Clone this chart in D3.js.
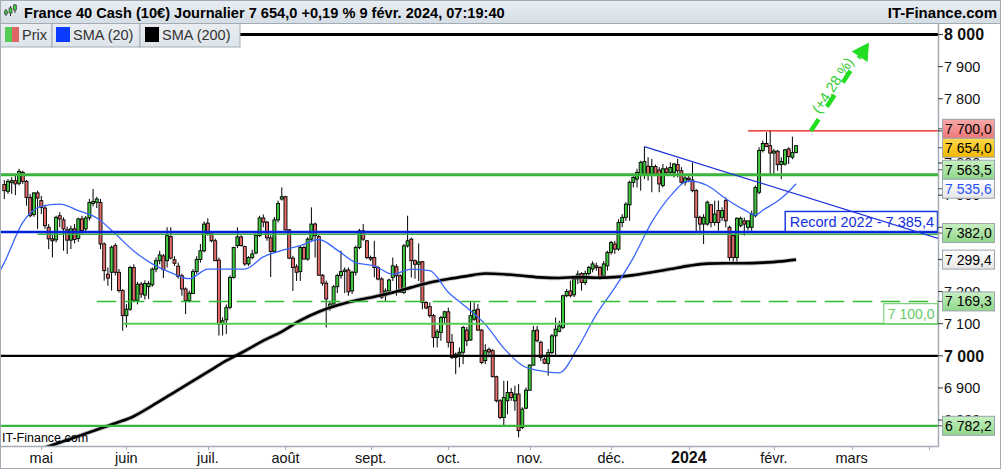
<!DOCTYPE html>
<html><head><meta charset="utf-8">
<script src="https://cdn.jsdelivr.net/npm/d3@7"></script>
<style>
html,body{margin:0;padding:0;background:#fff;}
svg{display:block;font-family:"Liberation Sans",Arial,sans-serif;}
</style></head><body>
<svg id="c" width="1001" height="469"></svg>
<script>
// ---------------- DATA ----------------
const titleText = "France 40 Cash (10€) Journalier 7 654,0 +0,19 % 9 févr. 2024, 07:19:40";
const brandText = "IT-Finance.com";
const legendLabels = ["Prix", "SMA (20)", "SMA (200)"];
const monthLabels = ["mai","juin","juil.","août","sept.","oct.","nov.","déc.","2024","févr.","mars",""];
const yTickValues = [6800,6900,7000,7100,7200,7300,7400,7500,7600,7700,7800,7900,8000];
const firstDay = "2023-04-17", axisEndDay = "2024-04-08";

// daily candles [open, high, low, close]
const aprCandles = [[7533,7547,7488,7514],[7512,7550,7504,7543],[7539,7556,7504,7545],[7545,7561,7500,7535],[7537,7582,7530,7574],[7571,7576,7535,7543],[7543,7547,7467,7493],[7493,7504,7431,7436],[7440,7509,7433,7507],[7507,7514,7395,7491]];
const mayCandles = [[7483,7498,7441,7462],[7460,7470,7395,7405],[7400,7410,7332,7364],[7364,7380,7306,7358],[7361,7436,7353,7431],[7436,7447,7400,7426],[7423,7431,7327,7395],[7392,7402,7317,7360],[7360,7405,7332,7395],[7395,7410,7350,7362],[7365,7430,7355,7426],[7426,7436,7380,7390],[7395,7435,7385,7429],[7429,7488,7421,7477],[7474,7519,7465,7480],[7478,7495,7460,7488],[7477,7488,7332,7348],[7348,7353,7234,7265],[7254,7275,7218,7242],[7260,7343,7203,7338],[7343,7350,7250,7260],[7260,7270,7197,7203],[7203,7208,7078,7125]];
const junCandles = [[7125,7161,7088,7145],[7145,7280,7140,7275],[7275,7285,7170,7173],[7173,7230,7160,7223],[7223,7230,7180,7192],[7189,7235,7175,7225],[7215,7233,7177,7225],[7221,7275,7215,7270],[7270,7306,7260,7296],[7296,7327,7285,7314],[7311,7317,7242,7268],[7296,7400,7275,7374],[7371,7400,7300,7304],[7299,7310,7280,7288],[7279,7290,7240,7247],[7249,7255,7187,7208],[7208,7213,7130,7172],[7172,7203,7166,7195],[7194,7270,7192,7262],[7262,7310,7255,7300],[7300,7348,7290,7327],[7327,7418,7322,7410]];
const julCandles = [[7413,7428,7374,7379],[7379,7385,7353,7358],[7358,7365,7295,7296],[7298,7306,7063,7099],[7099,7120,7063,7109],[7112,7160,7068,7150],[7151,7250,7145,7244],[7244,7340,7240,7337],[7343,7400,7335,7370],[7370,7375,7340,7343],[7340,7343,7280,7286],[7286,7310,7280,7306],[7306,7330,7300,7317],[7320,7380,7316,7374],[7374,7436,7370,7429],[7429,7440,7400,7416],[7416,7420,7358,7367],[7367,7375,7245,7325],[7325,7432,7320,7423],[7423,7483,7415,7474],[7488,7524,7483,7495]];
const augCandles = [[7495,7498,7390,7392],[7392,7395,7301,7304],[7304,7311,7202,7275],[7277,7285,7233,7260],[7262,7343,7233,7337],[7337,7343,7300,7301],[7301,7369,7296,7363],[7363,7462,7358,7410],[7410,7415,7306,7374],[7371,7379,7249,7251],[7251,7254,7218,7226],[7226,7234,7088,7177],[7152,7170,7140,7161],[7161,7220,7150,7215],[7215,7255,7195,7250],[7250,7327,7240,7262],[7262,7275,7195,7267],[7267,7275,7187,7199],[7202,7265,7192,7260],[7260,7343,7250,7337],[7337,7395,7332,7389],[7389,7410,7358,7363],[7358,7360,7301,7306]];
const sepCandles = [[7306,7312,7295,7301],[7306,7358,7244,7275],[7275,7280,7235,7239],[7239,7245,7177,7182],[7187,7210,7170,7202],[7202,7240,7195,7236],[7244,7306,7233,7280],[7277,7285,7187,7249],[7249,7254,7196,7197],[7197,7348,7192,7342],[7342,7436,7337,7358],[7363,7368,7244,7296],[7296,7300,7240,7285],[7285,7350,7233,7292],[7293,7295,7145,7166],[7166,7170,7145,7149],[7153,7166,7119,7125],[7125,7130,7026,7057],[7057,7083,7026,7075],[7073,7124,7047,7119],[7119,7140,7100,7137]];
const octCandles = [[7137,7150,7026,7042],[7042,7068,6990,6995],[6995,7010,6943,7005],[7005,7026,6964,7011],[7011,7093,6974,7088],[7080,7090,7030,7047],[7049,7171,7047,7125],[7114,7166,7109,7142],[7145,7161,7078,7080],[7080,7083,6974,6979],[6985,7036,6974,7016],[7020,7026,6995,7012],[7016,7021,6933,6935],[6935,6938,6855,6860],[6860,6865,6803,6808],[6808,6922,6782,6870],[6860,6922,6818,6886],[6886,6900,6860,6870],[6860,6907,6829,6881],[6881,6912,6746,6767],[6777,6840,6772,6834],[6837,6901,6834,6893]];
const novCandles = [[6893,6974,6891,6971],[6971,7093,6969,7078],[7080,7093,7042,7047],[7042,7047,6984,6995],[6990,6995,6974,6977],[6976,7021,6938,7010],[7010,7068,7005,7062],[7062,7119,7000,7083],[7076,7109,7073,7093],[7088,7190,7083,7187],[7187,7208,7182,7200],[7202,7234,7182,7187],[7190,7249,7183,7239],[7239,7265,7223,7254],[7256,7260,7203,7228],[7228,7265,7220,7256],[7256,7280,7249,7275],[7270,7294,7260,7286],[7280,7290,7265,7275],[7275,7280,7236,7244],[7249,7295,7244,7286],[7280,7327,7265,7322]];
const decCandles = [[7322,7358,7315,7353],[7348,7358,7317,7332],[7332,7425,7327,7415],[7415,7441,7400,7431],[7431,7478,7420,7472],[7470,7545,7420,7540],[7540,7561,7524,7555],[7550,7582,7524,7571],[7564,7607,7514,7602],[7566,7651,7550,7605],[7590,7618,7545,7566],[7568,7613,7509,7589],[7589,7595,7560,7566],[7578,7587,7509,7535],[7530,7597,7524,7582],[7582,7590,7560,7571],[7571,7602,7560,7586],[7571,7600,7555,7597],[7595,7613,7555,7576],[7576,7587,7535,7540],[7540,7560,7530,7553]];
const janCandles = [[7553,7560,7540,7548],[7547,7602,7509,7514],[7514,7519,7384,7431],[7431,7436,7389,7410],[7410,7441,7348,7431],[7410,7483,7405,7478],[7470,7472,7400,7415],[7415,7483,7405,7441],[7452,7483,7389,7415],[7431,7462,7420,7452],[7483,7493,7400,7420],[7400,7405,7296,7306],[7374,7380,7285,7306],[7306,7431,7285,7428],[7405,7433,7400,7428],[7420,7430,7374,7410],[7400,7420,7390,7420],[7400,7452,7389,7441],[7436,7530,7431,7524],[7509,7649,7503,7639],[7639,7670,7633,7661],[7661,7696,7651,7651],[7654,7701,7566,7631]];
const febCandles = [[7631,7644,7566,7637],[7637,7641,7576,7595],[7595,7618,7550,7605],[7597,7644,7592,7641],[7644,7649,7597,7620],[7618,7682,7612,7633],[7633,7654,7630,7654]];

// moving averages (trading-day index, value)
const sma20Days   = [-1,0,5,10,15,20,25,30,35,40,45,50,55,60,65,70,75,80,85,90,95,100,105,110,115,120,125,130,135,140,145,150,155,160,165,170,175,180,185,190,195,200,203,205,210,214];
const sma20Values = [7268,7290,7415,7465,7472,7452,7429,7380,7326,7286,7259,7240,7270,7270,7270,7308,7328,7343,7362,7329,7290,7280,7254,7270,7265,7198,7150,7098,7024,6970,6953,6947,7025,7128,7212,7305,7416,7497,7544,7530,7489,7454,7438,7453,7490,7535.6];
const sma200Days   = [8,15,20,25,30,35,40,45,50,55,60,65,70,75,80,85,90,95,100,105,110,115,120,125,130,135,140,145,150,155,160,165,170,175,180,185,190,195,200,205,210,214];
const sma200Values = [6703,6730,6750,6770,6790,6812,6845,6880,6915,6950,6985,7015,7047,7075,7110,7137,7157,7172,7184,7197,7213,7228,7239,7248,7256,7254,7249,7244,7242,7245,7243,7245,7251,7260,7270,7280,7287,7288,7288,7290,7294,7299.4];

// horizontal levels and annotations
const level8000 = 8000, level7000 = 7000;
const resistance7700 = 7700.0, resistanceStartDay = 201;
const zone7563 = 7563.5;
const record2022 = 7385.4, support7382 = 7382.0, support7382StartDay = 9;
const dashed7169 = 7169.3, dashedStartDay = 25;
const support7100 = 7100.0, support7100StartDay = 32;
const low6782 = 6782.2;
const trendA = [173, 7651], trendB = [220.5, 7480];
const arrowFrom = [218, 7700], arrowTo = [233.7, 7975];
const arrowText = "(+4,28 %)";
const recordText = "Record 2022 - 7 385,4";
const lastClose = 7654.0, lastSma20 = 7535.6, lastSma200 = 7299.4;

// ---------------- RENDER ----------------
const W = 1001, H = 469;
const plotL = 0, plotR = 938, plotT = 24, plotB = 446;
const svg = d3.select("#c");
const defs = svg.append("defs");
function grad(id, c1, c2){
  const g = defs.append("linearGradient").attr("id", id).attr("x1",0).attr("y1",0).attr("x2",0).attr("y2",1);
  g.append("stop").attr("offset","0%").attr("stop-color",c1);
  g.append("stop").attr("offset","100%").attr("stop-color",c2);
}
grad("gHead","#e9eef3","#d5dde5");
grad("gLeg","#eaeef2","#dde4ea");
grad("gRed","#f6a9a9","#ee7878");
grad("gGold","#ffd94d","#f1b800");
grad("gGreen","#c8f0c2","#90d689");
grad("gWhite","#ffffff","#e6e6e6");
defs.append("clipPath").attr("id","plotClip").append("rect")
  .attr("x",plotL).attr("y",plotT).attr("width",plotR-plotL).attr("height",plotB-plotT);

svg.append("rect").attr("width",W).attr("height",H).attr("fill","#fff");

const loc = d3.formatLocale({decimal:",", thousands:" ", grouping:[3], currency:["","€"]});
const fTick = loc.format(",.0f");
const fBox = loc.format(",.1f");

const days = d3.timeDay.range(d3.timeParse("%Y-%m-%d")(firstDay), d3.timeParse("%Y-%m-%d")(axisEndDay))
  .filter(d => d.getDay() !== 0 && d.getDay() !== 6);
const candles = [].concat(aprCandles, mayCandles, junCandles, julCandles, augCandles, sepCandles,
  octCandles, novCandles, decCandles, janCandles, febCandles)
  .map((c, i) => ({i, o:c[0], h:c[1], l:c[2], c:c[3]}));

const x = d3.scaleLinear().domain([-1.16, 252.35]).range([plotL, plotR]);
const y = d3.scaleLinear().domain([6719.3, 8032.7]).range([plotB, plotT]);

const plot = svg.append("g").attr("clip-path","url(#plotClip)");

function hline(v, fromDay, color, w, dash, dy){
  plot.append("line")
    .attr("x1", fromDay == null ? plotL : x(fromDay)).attr("x2", plotR)
    .attr("y1", y(v) + (dy||0)).attr("y2", y(v) + (dy||0))
    .attr("stroke", color).attr("stroke-width", w)
    .attr("stroke-dasharray", dash || null);
}

// candles
const GREEN = "#3fcb3f", RED = "#e56a6a";
const cg = plot.append("g");
cg.selectAll("line").data(candles).join("line")
  .attr("x1", d => x(d.i)).attr("x2", d => x(d.i))
  .attr("y1", d => y(d.h)).attr("y2", d => y(d.l))
  .attr("stroke","#000").attr("stroke-width",1);
cg.selectAll("rect").data(candles).join("rect")
  .attr("x", d => x(d.i) - 1.5).attr("width", 3)
  .attr("y", d => y(Math.max(d.o, d.c)))
  .attr("height", d => Math.max(1, Math.abs(y(d.o) - y(d.c))))
  .attr("fill", d => d.c >= d.o ? GREEN : RED)
  .attr("stroke","#000").attr("stroke-width",0.9);

// moving averages
const sma200 = sma200Days.map((d,k)=>[d, sma200Values[k]]);
const sma20 = sma20Days.map((d,k)=>[d, sma20Values[k]]);
const lineGen = d3.line().x(d => x(d[0])).y(d => y(d[1])).curve(d3.curveMonotoneX);
plot.append("path").datum(sma200).attr("d", lineGen).attr("fill","none")
  .attr("stroke","#9a9a9a").attr("stroke-width",4.5).attr("stroke-opacity",0.6);
plot.append("path").datum(sma200).attr("d", lineGen).attr("fill","none")
  .attr("stroke","#000").attr("stroke-width",2.6);
plot.append("path").datum(sma20).attr("d", lineGen).attr("fill","none")
  .attr("stroke","#3a66ff").attr("stroke-width",1.3);

// levels
hline(level8000, null, "#000", 3);
hline(level7000, null, "#000", 2.2);
hline(zone7563, null, "#3bb53b", 3.2);
hline(support7382, support7382StartDay, "#3bb53b", 1.6, null, 1.2);
hline(record2022, null, "#0022dd", 2.4);
hline(dashed7169, dashedStartDay, "#33bb33", 1.5, "19.5,8.5");
hline(support7100, support7100StartDay, "#55cc55", 2);
hline(low6782, null, "#3bb53b", 2.2);
hline(resistance7700, resistanceStartDay, "#ee1111", 1.2);

// Record 2022 label
const recG = svg.append("g");
const recRect = recG.append("rect").attr("y", y(record2022) - 20.5).attr("height", 20)
  .attr("fill","#fff").attr("stroke","#1030e0").attr("stroke-width",1.4);
const recT = recG.append("text").attr("y", y(record2022) - 5).attr("font-size",14.5)
  .attr("fill","#1030e0").text(recordText);
const rw = recT.node().getComputedTextLength();
recRect.attr("x", plotR - rw - 8.5).attr("width", rw + 8);
recT.attr("x", plotR - rw - 4);

// trend line (extended to the right edge), drawn over the label as in the source
const slope = (trendB[1]-trendA[1])/(trendB[0]-trendA[0]);
const trendEnd = x.domain()[1];
svg.append("g").attr("clip-path","url(#plotClip)").append("line")
  .attr("x1", x(trendA[0])).attr("y1", y(trendA[1]))
  .attr("x2", x(trendEnd)).attr("y2", y(trendA[1] + slope*(trendEnd - trendA[0])))
  .attr("stroke","#2233dd").attr("stroke-width",1.2);

// 7100,0 label
const l71 = svg.append("g");
const l71r = l71.append("rect").attr("y", y(support7100) - 20).attr("height", 20)
  .attr("fill","#fff").attr("stroke","#66cc66").attr("stroke-width",1);
const l71t = l71.append("text").attr("y", y(support7100) - 5).attr("font-size",14)
  .attr("fill","#66cc66").text(fBox(support7100));
const l71w = l71t.node().getComputedTextLength();
l71r.attr("x", plotR - l71w - 7.5).attr("width", l71w + 7);
l71t.attr("x", plotR - l71w - 3.5);

// arrow annotation
const p0 = [x(arrowFrom[0]), y(arrowFrom[1])], p1 = [x(arrowTo[0]), y(arrowTo[1])];
const dx = p1[0]-p0[0], dy = p1[1]-p0[1], len = Math.hypot(dx,dy);
const ux = dx/len, uy = dy/len, px = -uy, py = ux;
const headL = 17, headW = 9.5;
const bc = [p1[0]-ux*headL, p1[1]-uy*headL];
svg.append("line").attr("x1",p0[0]).attr("y1",p0[1]).attr("x2",bc[0]).attr("y2",bc[1])
  .attr("stroke","#22dd22").attr("stroke-width",4.5).attr("stroke-dasharray","14,15");
svg.append("path")
  .attr("d", `M${p1[0]},${p1[1]}L${bc[0]+px*headW},${bc[1]+py*headW}L${bc[0]-px*headW},${bc[1]-py*headW}Z`)
  .attr("fill","#22dd22");
const tpos = [p0[0]+ux*50 - px*7, p0[1]+uy*50 - py*7];
svg.append("text").attr("transform", `translate(${tpos[0]},${tpos[1]}) rotate(${Math.atan2(dy,dx)*180/Math.PI})`)
  .attr("text-anchor","middle").attr("dy","0.35em").attr("font-size",14.5)
  .attr("fill","#33cc33").text(arrowText);

// watermark
svg.append("text").attr("x",2).attr("y",442).attr("font-size",12.5).attr("fill","#000").text(brandText);

// axes
const axisCol = "#a3acb5";
svg.append("line").attr("x1",plotR+0.5).attr("x2",plotR+0.5).attr("y1",plotT).attr("y2",plotB+0.5)
  .attr("stroke",axisCol).attr("stroke-width",1.5);
svg.append("line").attr("x1",0).attr("x2",plotR+0.5).attr("y1",plotB+0.5).attr("y2",plotB+0.5)
  .attr("stroke",axisCol).attr("stroke-width",1.5);

const monthStarts = days.map((d,i)=>i).filter(i => i > 0 && days[i].getMonth() !== days[i-1].getMonth());
const xa = svg.append("g");
monthStarts.forEach((i,k) => {
  xa.append("line").attr("x1", Math.round(x(i))+0.5).attr("x2", Math.round(x(i))+0.5)
    .attr("y1", plotB).attr("y2", plotB+4).attr("stroke",axisCol);
  const lab = monthLabels[k] || "";
  const bold = /^\d{4}$/.test(lab);
  xa.append("text").attr("x", x(i)).attr("y", 463).attr("text-anchor","middle")
    .attr("font-size", bold ? 16 : 14.5).attr("font-weight", bold ? "bold" : "normal")
    .attr("fill","#111").text(lab);
});

// value boxes on the right axis (positions resolved first so hidden tick labels can be skipped)
const boxValues = [resistance7700, lastClose, zone7563, lastSma20, support7382, lastSma200, dashed7169, low6782];
const boxFill = ["url(#gRed)","url(#gGold)","url(#gGreen)","url(#gWhite)","url(#gGreen)","url(#gWhite)","url(#gGreen)","url(#gGreen)"];
const boxText = ["#000","#000","#000","#1f4fff","#000","#000","#000","#000"];
const boxes = boxValues.map((v,k)=>({v, k, yc: y(v)})).sort((a,b)=>a.yc-b.yc);
for (let it=0; it<50; it++){
  for (let j=1; j<boxes.length; j++){
    const gap = boxes[j].yc - boxes[j-1].yc;
    if (gap < 19){ const m = (19-gap)/2; boxes[j].yc += m; boxes[j-1].yc -= m; }
  }
}

const ya = svg.append("g");
yTickValues.forEach(v => {
  const yy = y(v);
  ya.append("line").attr("x1",plotR).attr("x2",plotR+5).attr("y1",yy).attr("y2",yy).attr("stroke","#333");
  // a label fully covered by a value box is not visible in the source
  if (boxes.some(b => Math.abs(b.yc - yy) < 3)) return;
  const bold = v % 1000 === 0;
  ya.append("text").attr("x",944).attr("y",yy).attr("dy","0.36em")
    .attr("font-size", bold ? 16 : 14.5).attr("font-weight", bold ? "bold":"normal")
    .attr("fill","#111").text(fTick(v));
});

const bg = svg.append("g");
boxes.forEach(b => {
  bg.append("line").attr("x1",plotR).attr("x2",943).attr("y1",b.yc).attr("y2",b.yc).attr("stroke","#555");
  bg.append("rect").attr("x",942.5).attr("y",b.yc-9.5).attr("width",52).attr("height",19)
    .attr("fill",boxFill[b.k]).attr("stroke","#9aa4ae").attr("stroke-width",1);
  bg.append("text").attr("x",945).attr("y",b.yc).attr("dy","0.36em").attr("font-size",14)
    .attr("fill",boxText[b.k]).text(fBox(b.v));
});

// header
svg.append("rect").attr("x",0).attr("y",0).attr("width",W).attr("height",23).attr("fill","url(#gHead)");
svg.append("line").attr("x1",0).attr("x2",W).attr("y1",23.5).attr("y2",23.5).attr("stroke",axisCol);
const icon = svg.append("g");
[[6,9,16,11,14],[10.5,6,16,8,13],[15,4,13,5,10]].forEach(c=>{
  icon.append("line").attr("x1",c[0]).attr("x2",c[0]).attr("y1",c[1]).attr("y2",c[2]).attr("stroke","#333");
  icon.append("rect").attr("x",c[0]-1.5).attr("y",c[3]).attr("width",3).attr("height",c[4]-c[3])
    .attr("fill","#3fcb3f").attr("stroke","#333").attr("stroke-width",0.6);
});
svg.append("text").attr("x",24).attr("y",18).attr("font-size",14.6).attr("font-weight","bold")
  .attr("fill","#000").text(titleText);
svg.append("text").attr("x",997).attr("y",18).attr("text-anchor","end").attr("font-size",15)
  .attr("font-weight","bold").attr("fill","#000").text(brandText);

// legend
const lg = svg.append("g");
const legBoxes = [[0,51.5],[51.5,139.5],[139.5,239.5]];
legBoxes.forEach((b,k)=>{
  lg.append("rect").attr("x",b[0]+0.5).attr("y",23.5).attr("width",b[1]-b[0]).attr("height",23.5)
    .attr("fill","url(#gLeg)").attr("stroke",axisCol);
});
lg.append("rect").attr("x",5).attr("y",27).attr("width",7).attr("height",15).attr("fill","#55cc55");
lg.append("rect").attr("x",12).attr("y",27).attr("width",7).attr("height",15).attr("fill","#e06666");
lg.append("rect").attr("x",56).attr("y",27).attr("width",14).attr("height",15).attr("fill","#0a3cff");
lg.append("rect").attr("x",145).attr("y",27).attr("width",14).attr("height",15).attr("fill","#000");
[[22,0],[73,1],[162,2]].forEach(p=>{
  lg.append("text").attr("x",p[0]).attr("y",39.5).attr("font-size",14.5).attr("fill","#333").text(legendLabels[p[1]]);
});

// outer frame
svg.append("rect").attr("x",0.5).attr("y",0.5).attr("width",W-1).attr("height",H-1)
  .attr("fill","none").attr("stroke",axisCol);
</script></body></html>
